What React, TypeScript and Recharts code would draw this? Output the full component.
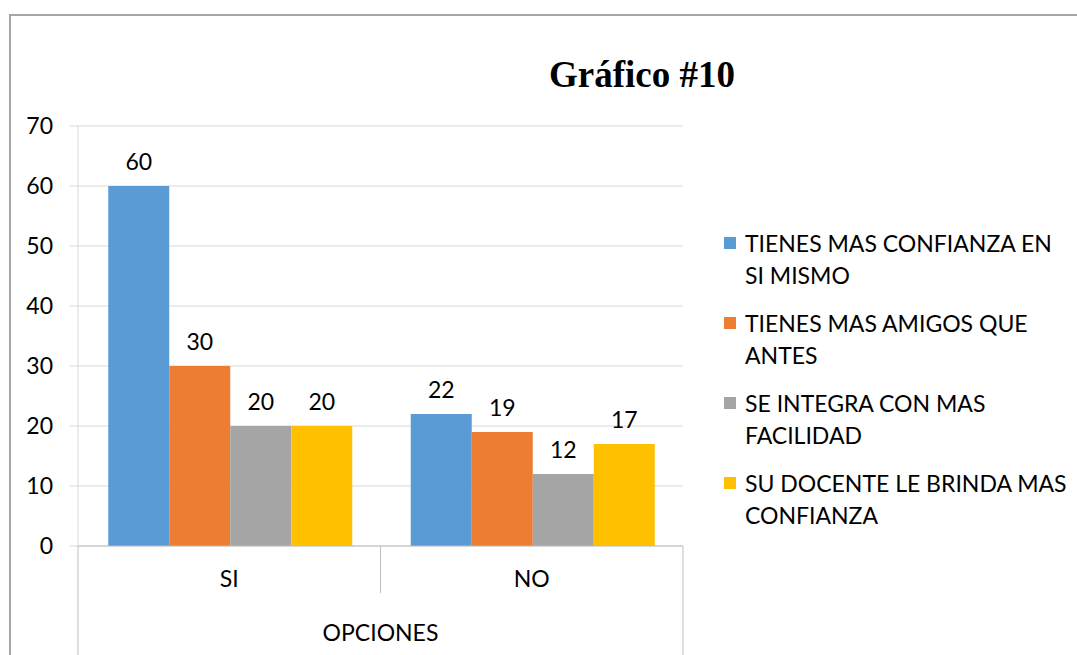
import React from 'react';
import { BarChart, Bar, XAxis, YAxis, CartesianGrid, LabelList } from 'recharts';

const categories = ['SI', 'NO'];
const confianza = [60, 22];
const amigos = [30, 19];
const integra = [20, 12];
const docente = [20, 17];
const seriesNames = [
  'TIENES MAS CONFIANZA EN SI MISMO',
  'TIENES MAS AMIGOS QUE ANTES',
  'SE INTEGRA CON MAS FACILIDAD',
  'SU DOCENTE LE BRINDA MAS CONFIANZA',
];
const seriesColors = ['#5b9bd5', '#ed7d31', '#a5a5a5', '#ffc000'];
const yTicks = [0, 10, 20, 30, 40, 50, 60, 70];

const FONT = 'Lato, "Open Sans", sans-serif';
const GRID = '#d9d9d9';

const data = categories.map((cat, i) => ({
  cat,
  s0: confianza[i],
  s1: amigos[i],
  s2: integra[i],
  s3: docente[i],
}));

// category tick with Excel-style separators between the groups
function CategoryTick(props: any) {
  const { x, y, payload, index } = props;
  const half = payload.offset || 0;
  const last = index === categories.length - 1;
  return (
    <g>
      <line x1={x - half} x2={x - half} y1={y} y2={index === 0 ? y + 109 : y + 47} stroke="#bfbfbf" />
      {last && <line x1={x + half} x2={x + half} y1={y} y2={y + 109} stroke="#bfbfbf" />}
      <text x={x} y={y + 35} textAnchor="middle" dominantBaseline="middle" fill="#000" fontSize={23} fontFamily={FONT}>
        {payload.value}
      </text>
    </g>
  );
}

export default function App() {
  return (
    <div style={{ position: 'absolute', left: 0, top: 0, width: 1077, height: 655, overflow: 'hidden', background: '#fff' }}>
      <div
        style={{
          position: 'absolute',
          left: 9,
          top: 14,
          width: 1200,
          height: 800,
          border: '2px solid #a6a6a6',
        }}
      />
      <div
        style={{
          position: 'absolute',
          left: 0,
          width: 1284,
          top: 52,
          textAlign: 'center',
          fontFamily: '"Liberation Serif", serif',
          fontWeight: 'bold',
          fontSize: 37,
          lineHeight: '46px',
          color: '#000',
        }}
      >
        Gráfico #10
      </div>
      <div style={{ position: 'absolute', left: 0, top: 0 }}>
        <BarChart
          width={1077}
          height={655}
          data={data}
          margin={{ top: 126, right: 394, bottom: 0, left: 0 }}
          barCategoryGap="10%"
          barGap={0}
        >
          <CartesianGrid vertical={false} stroke={GRID} />
          <YAxis
            width={78}
            domain={[0, 70]}
            ticks={yTicks}
            interval={0}
            tickSize={8}
            tickMargin={17}
            axisLine={{ stroke: GRID }}
            tickLine={{ stroke: GRID }}
            tick={{ fill: '#000', fontSize: 23, fontFamily: FONT }}
          />
          <XAxis
            dataKey="cat"
            height={109}
            tickSize={0}
            tickMargin={0}
            tickLine={false}
            axisLine={{ stroke: '#bfbfbf' }}
            tick={<CategoryTick />}
            label={{ value: 'OPCIONES', position: 'insideBottom', offset: 14, fill: '#000', fontSize: 23, fontFamily: FONT }}
          />
          {seriesColors.map((color, i) => (
            <Bar key={i} dataKey={`s${i}`} name={seriesNames[i]} fill={color} isAnimationActive={false}>
              <LabelList dataKey={`s${i}`} position="top" offset={16} fill="#000" fontSize={23} fontFamily={FONT} />
            </Bar>
          ))}
        </BarChart>
      </div>
      <div style={{ position: 'absolute', left: 724, top: 227, width: 347, fontFamily: FONT, fontSize: 23, color: '#000' }}>
        {seriesNames.map((name, i) => (
          <div key={i} style={{ position: 'relative', paddingLeft: 21, lineHeight: '32px', marginBottom: 16 }}>
            <span
              style={{
                position: 'absolute',
                left: 0,
                top: 10,
                width: 12,
                height: 12,
                background: seriesColors[i],
              }}
            />
            {name}
          </div>
        ))}
      </div>
    </div>
  );
}
